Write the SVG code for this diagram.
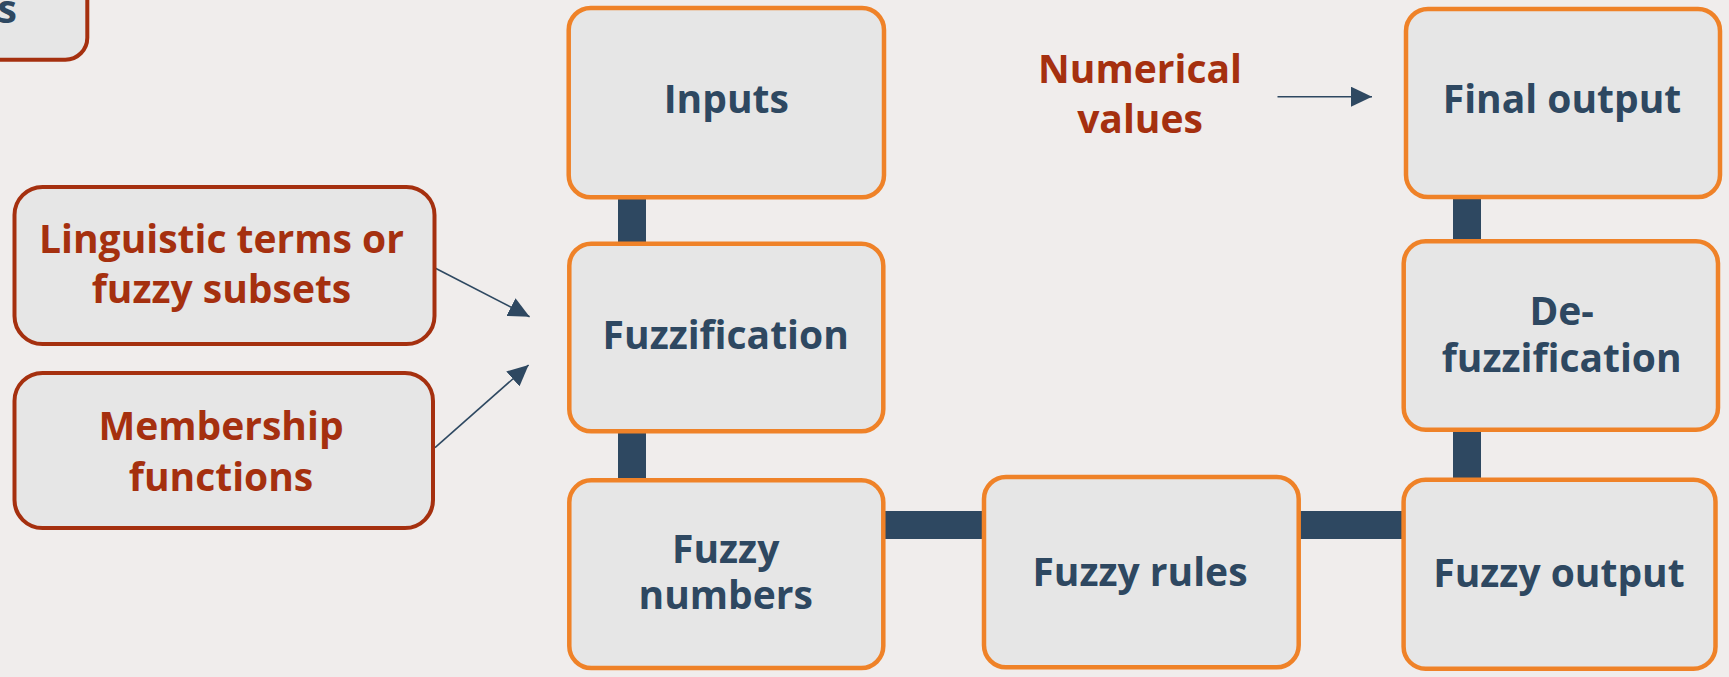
<svg xmlns="http://www.w3.org/2000/svg" width="1729" height="677" viewBox="0 0 1729 677">
<style>
.bg{fill:#F0EDEC}
.ob{fill:#E6E6E6;stroke:#EF8228;stroke-width:4.5}
.rb{fill:#E6E6E6;stroke:#A5300F;stroke-width:4}
.bar{fill:#2E4861}
.tb{font-family:"Open Sans","Noto Sans","DejaVu Sans",sans-serif;font-weight:bold;font-size:39px;fill:#2E4861;text-anchor:middle}
.tr{font-family:"Open Sans","Noto Sans","DejaVu Sans",sans-serif;font-weight:bold;font-size:39px;fill:#A5300F;text-anchor:middle}
.ar{stroke:#2E4861;stroke-width:1.6;fill:none}
</style>
<defs>
<marker id="ah" markerUnits="userSpaceOnUse" markerWidth="22" markerHeight="20" refX="21" refY="10" orient="auto">
<path d="M0,0 L21,10 L0,20 z" fill="#2E4861"/>
</marker>
</defs>
<rect class="bg" x="0" y="0" width="1729" height="677"/>
<g id="connectors">
<rect class="bar" x="618" y="195" width="28" height="50"/>
<rect class="bar" x="618" y="428" width="28" height="55"/>
<rect class="bar" x="880" y="511" width="106" height="28"/>
<rect class="bar" x="1296" y="511" width="110" height="28"/>
<rect class="bar" x="1453" y="195" width="28" height="48"/>
<rect class="bar" x="1453" y="427" width="28" height="55"/>
<line class="ar" x1="434.5" y1="267.7" x2="529.6" y2="316.7" marker-end="url(#ah)"/>
<line class="ar" x1="435" y1="447.7" x2="528.6" y2="365" marker-end="url(#ah)"/>
<line class="ar" x1="1277.5" y1="96.7" x2="1372" y2="96.7" marker-end="url(#ah)"/>
</g>
<g id="topleft">
<rect class="rb" x="-300" y="-100" width="387.3" height="159.7" rx="22"/>
<text class="tb" x="17" y="22.5" style="text-anchor:end">s</text>
</g>
<g id="linguistic">
<rect class="rb" x="14.5" y="187" width="420" height="157" rx="28"/>
<text class="tr" x="221.5" y="253.3">Linguistic terms or</text>
<text class="tr" x="221.5" y="303.3">fuzzy subsets</text>
</g>
<g id="membership">
<rect class="rb" x="14.5" y="373" width="418.5" height="155" rx="28"/>
<text class="tr" x="221" y="440">Membership</text>
<text class="tr" x="221" y="490.5">functions</text>
</g>
<g id="numerical">
<text class="tr" x="1140" y="83.3">Numerical</text>
<text class="tr" x="1140" y="133">values</text>
</g>
<g id="inputs">
<rect class="ob" x="568.7" y="8" width="315.3" height="189.3" rx="22"/>
<text class="tb" x="726.3" y="113.3">Inputs</text>
</g>
<g id="fuzzification">
<rect class="ob" x="569.3" y="243.7" width="314" height="187.6" rx="22"/>
<text class="tb" x="725.7" y="349.3">Fuzzification</text>
</g>
<g id="fuzzynumbers">
<rect class="ob" x="569.3" y="480.3" width="314" height="187.7" rx="22"/>
<text class="tb" x="725.7" y="563.3">Fuzzy</text>
<text class="tb" x="725.7" y="609.3">numbers</text>
</g>
<g id="fuzzyrules">
<rect class="ob" x="984" y="477" width="314.7" height="190.3" rx="22"/>
<text class="tb" x="1140" y="586">Fuzzy rules</text>
</g>
<g id="fuzzyoutput">
<rect class="ob" x="1403.6" y="479.7" width="311.9" height="189" rx="22"/>
<text class="tb" x="1559" y="586.7">Fuzzy output</text>
</g>
<g id="defuzzification">
<rect class="ob" x="1403.7" y="241.3" width="314.3" height="188.4" rx="22"/>
<text class="tb" x="1561.7" y="325">De-</text>
<text class="tb" x="1561.7" y="371.7">fuzzification</text>
</g>
<g id="finaloutput">
<rect class="ob" x="1406" y="9" width="314" height="188" rx="22"/>
<text class="tb" x="1562" y="113.3">Final output</text>
</g>
</svg>
